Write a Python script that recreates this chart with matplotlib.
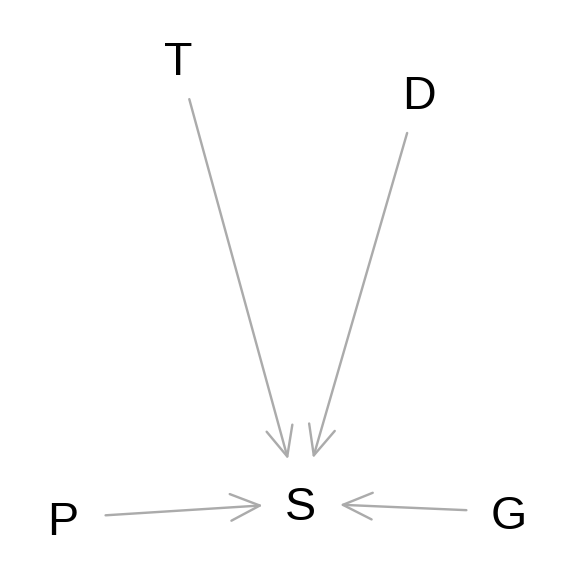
import matplotlib.pyplot as plt

# node positions in pixel-like units (origin bottom left)
nodes = ["T", "D", "S", "P", "G"]
node_x = [178, 419, 300, 63, 509]
node_y = [518, 484, 73, 58, 64]

edges_from = ["T", "D", "P", "G"]
edges_to = ["S", "S", "S", "S"]

EDGE_COLOR = "#ababab"
# gap at the arrow tip, per edge (points)
tip_gap = [34, 35, 28, 30]


def main():
    fig = plt.figure(figsize=(6, 6), dpi=96)
    ax = fig.add_axes([0, 0, 1, 1])
    ax.set_xlim(0, 576)
    ax.set_ylim(0, 576)
    ax.axis("off")

    pos = {n: (x, y) for n, x, y in zip(nodes, node_x, node_y)}

    for a, b, gap in zip(edges_from, edges_to, tip_gap):
        ax.annotate(
            "", xy=pos[b], xytext=pos[a],
            arrowprops=dict(
                arrowstyle="->, head_length=1.1, head_width=0.5",
                mutation_scale=20, color=EDGE_COLOR, lw=1.8,
                shrinkA=32, shrinkB=gap,
            ),
        )

    for n in nodes:
        x, y = pos[n]
        ax.text(x, y, n, ha="center", va="center_baseline", fontsize=35,
                family="Liberation Sans", color="black")

    fig.savefig("out.png", dpi=96, facecolor="white")


if __name__ == "__main__":
    main()
